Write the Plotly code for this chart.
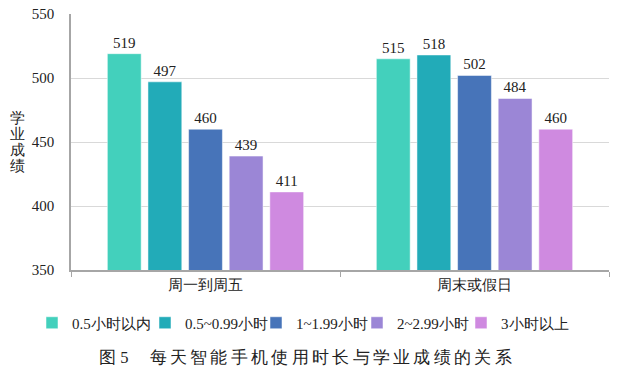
import plotly.graph_objects as go

categories = ["周一到周五", "周末或假日"]
series_names = ["0.5小时以内", "0.5~0.99小时", "1~1.99小时", "2~2.99小时", "3小时以上"]
values = [
    [519, 515],
    [497, 518],
    [460, 502],
    [439, 484],
    [411, 460],
]
colors = ["#43D0BC", "#22ABB8", "#4774B9", "#9B86D6", "#CF8AE0"]
y_ticks = [350, 400, 450, 500, 550]
y_title = "学业成绩"
caption_no = "图 5"
caption = "每天智能手机使用时长与学业成绩的关系"

FONT = "Liberation Serif"
W, H = 625, 377
L, T, PW, PH = 71, 14, 538, 256
legend_left_px = [32, 145, 256, 357, 461]

fig = go.Figure()
legend_ids = ["legend"] + [f"legend{i}" for i in range(2, len(series_names) + 1)]
for name, vals, c, lid in zip(series_names, values, colors, legend_ids):
    fig.add_trace(go.Bar(
        x=categories, y=vals, name=name, legend=lid,
        marker=dict(color=c, line=dict(color="rgba(255,255,255,0.5)", width=1)),
        text=[str(v) for v in vals], textposition="outside",
        textfont=dict(family=FONT, size=15, color="#222"),
        cliponaxis=False,
    ))

annotations = []
for i, ch in enumerate(y_title):
    yc = 118 + 16 * i  # px from top
    annotations.append(dict(text=ch, x=(17 - L) / PW, xref="paper", xanchor="center",
                            y=(T + PH - yc) / PH, yref="paper", yanchor="middle",
                            showarrow=False, font=dict(family=FONT, size=15, color="#222")))
annotations.append(dict(text=caption_no + "\u3000 " + "\u2009".join(caption),
                        x=(305 - L) / PW, xref="paper", xanchor="center",
                        y=(T + PH - 357) / PH, yref="paper", yanchor="middle",
                        showarrow=False, font=dict(family=FONT, size=16.5, color="#222")))

legend_common = dict(orientation="h", xref="container", xanchor="left",
                     y=1 - 323 / H, yref="container", yanchor="middle",
                     font=dict(family=FONT, size=15, color="#222"),
                     itemwidth=30, bgcolor="rgba(0,0,0,0)")
legends = {lid: dict(legend_common, x=lx / W) for lid, lx in zip(legend_ids, legend_left_px)}

fig.update_layout(
    width=W, height=H,
    margin=dict(l=L, r=W - L - PW, t=T, b=H - T - PH, autoexpand=False),
    paper_bgcolor="white", plot_bgcolor="white",
    barmode="group", bargap=0.245, bargroupgap=0.167,
    font=dict(family=FONT, size=15, color="#222"),
    showlegend=True,
    xaxis=dict(showline=True, linecolor="#A6A6A6", linewidth=1.5,
               ticks="outside", tickson="boundaries", ticklen=5, tickcolor="#A6A6A6",
               tickfont=dict(family=FONT, size=15, color="#222")),
    yaxis=dict(range=[350, 550], tickvals=y_ticks, showline=True, linecolor="#A6A6A6", linewidth=1.5,
               gridcolor="#D9D9D9", gridwidth=1, zeroline=False,
               ticks="", ticklabelstandoff=12,
               tickfont=dict(family=FONT, size=15, color="#222")),
    annotations=annotations,
    **legends,
)
fig.write_html("out.html", config={"displayModeBar": False},
               post_script="document.body.style.margin='0';")
